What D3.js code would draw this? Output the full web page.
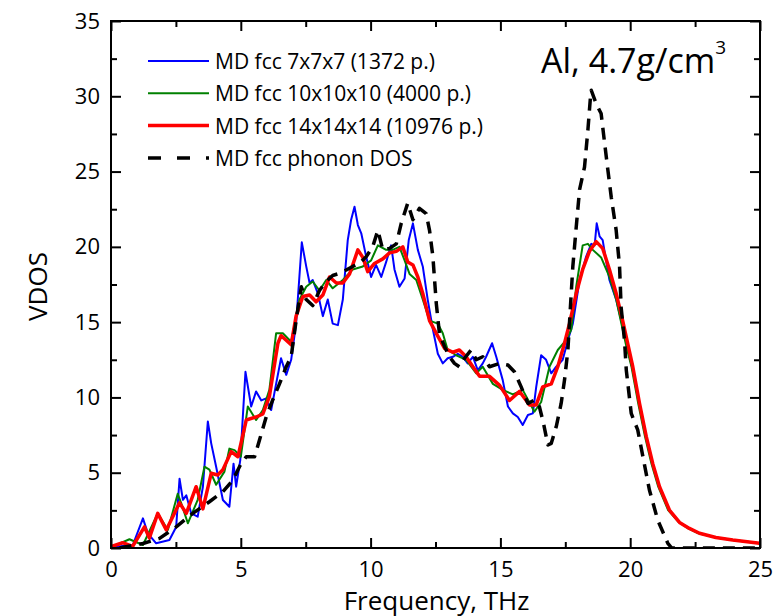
<!DOCTYPE html>
<html>
<head>
<meta charset="utf-8">
<script src="https://cdn.jsdelivr.net/npm/d3@7"></script>
<style>
  body { margin: 0; background: #fff; }
  svg { display: block; font-family: "Open Sans", sans-serif; }
</style>
</head>
<body>
<svg id="chart"></svg>
<script>
// Series: [frequency THz, VDOS]
const md7 = [
  [0, 0.05], [0.84, 0.2], [1.23, 1.97], [1.42, 0.97], [1.74, 0.31], [2.25, 0.53], [2.51, 1.4],
  [2.64, 4.6], [2.77, 3.2], [2.9, 3.5], [3.09, 2.3], [3.34, 2.08], [3.54, 4.07], [3.73, 8.4],
  [3.86, 6.95], [4.05, 5.4], [4.31, 3.19], [4.56, 2.74], [4.72, 5.6], [4.82, 4.07], [4.98, 5.84],
  [5.18, 11.7], [5.4, 9.4], [5.59, 10.4], [5.79, 9.8], [5.98, 9.94], [6.17, 9.16], [6.36, 10.9],
  [6.55, 12.6], [6.75, 11.5], [6.94, 12.5], [7.13, 14.9], [7.35, 20.3], [7.52, 18.7], [7.65, 17.6],
  [7.77, 17.8], [7.97, 16.9], [8.16, 15.4], [8.35, 16.5], [8.54, 14.9], [8.74, 14.8], [8.93, 16.5],
  [9.12, 20.45], [9.25, 21.8], [9.38, 22.66], [9.51, 21.45], [9.64, 20.9], [9.83, 19.34],
  [10.02, 18.0], [10.21, 18.8], [10.41, 18.0], [10.6, 19.0], [10.79, 20.1], [10.92, 18.5],
  [11.11, 17.35], [11.31, 17.9], [11.47, 20.45], [11.63, 21.56], [11.82, 19.8], [12.01, 18.7],
  [12.2, 16.5], [12.4, 14.5], [12.59, 12.9], [12.78, 12.26], [12.97, 12.6], [13.17, 12.7],
  [13.36, 12.9], [13.55, 12.7], [13.74, 12.26], [13.94, 12.7], [14.13, 11.8], [14.32, 12.26],
  [14.45, 12.7], [14.68, 13.6], [14.84, 12.7], [15.09, 11.15], [15.29, 9.4], [15.48, 8.94],
  [15.67, 8.7], [15.86, 8.17], [16.06, 8.83], [16.25, 8.94], [16.38, 10.7], [16.57, 12.8],
  [16.76, 12.5], [16.96, 11.6], [17.15, 12.04], [17.4, 12.5], [17.6, 13.8], [17.79, 14.9],
  [18.05, 17.8], [18.3, 19.34], [18.5, 20.2], [18.63, 20.1], [18.71, 21.56], [18.82, 20.7],
  [18.94, 20.45], [19.07, 19.1], [19.2, 17.8], [19.46, 16.5], [19.71, 14.7], [20.1, 11.8],
  [20.36, 9.6], [20.62, 7.4], [20.87, 5.6], [21.13, 4.07], [21.51, 2.52], [21.9, 1.7],
  [22.28, 1.3], [22.67, 0.98], [23.3, 0.7], [23.95, 0.53], [24.98, 0.31]
];

const md10 = [
  [0, 0.05], [0.71, 0.58], [1.23, 0.2], [1.8, 2.3], [2.19, 1.2], [2.57, 3.6], [2.7, 3.0],
  [2.96, 1.64], [3.34, 3.2], [3.6, 5.4], [3.79, 5.2], [4.05, 4.2], [4.37, 5.07], [4.56, 6.6],
  [4.76, 6.5], [5.0, 6.06], [5.27, 9.4], [5.59, 8.5], [5.85, 9.16], [6.1, 10.5], [6.36, 14.26],
  [6.62, 14.26], [6.94, 13.7], [7.26, 16.5], [7.52, 17.35], [7.77, 17.7], [8.03, 17.1],
  [8.29, 17.8], [8.54, 17.25], [8.93, 17.8], [9.31, 18.5], [9.7, 18.7], [10.02, 19.1],
  [10.28, 20.1], [10.6, 19.8], [10.85, 19.8], [11.11, 20.0], [11.31, 19.1], [11.5, 18.2],
  [11.76, 17.8], [12.01, 16.5], [12.27, 15.1], [12.59, 14.9], [12.78, 14.26], [12.97, 13.15],
  [13.3, 12.8], [13.68, 12.5], [14.07, 11.6], [14.32, 12.04], [14.71, 10.9], [15.09, 10.5],
  [15.48, 10.2], [15.86, 10.5], [16.31, 9.05], [16.57, 9.7], [16.89, 12.04], [17.21, 13.15],
  [17.53, 13.8], [17.73, 14.5], [17.92, 17.35], [18.17, 20.1], [18.37, 20.2], [18.56, 19.8],
  [18.88, 19.3], [19.2, 18.0], [19.46, 16.5], [19.85, 13.4], [20.05, 12.04], [20.31, 9.6],
  [20.57, 7.4], [20.82, 5.6], [21.08, 4.07], [21.46, 2.52], [21.85, 1.75], [22.23, 1.3],
  [22.62, 0.98], [23.3, 0.7], [23.95, 0.53], [24.98, 0.31]
];

const md14 = [
  [0, 0.1], [0.45, 0.35], [0.83, 0.1], [1.29, 1.4], [1.48, 0.66], [1.8, 2.3], [2.13, 1.2],
  [2.64, 3.0], [2.9, 2.3], [3.28, 4.07], [3.54, 2.6], [3.86, 4.96], [4.11, 4.85], [4.31, 5.2],
  [4.63, 6.4], [4.89, 6.06], [5.21, 8.5], [5.59, 8.7], [5.85, 8.9], [6.1, 10.05], [6.43, 13.6],
  [6.55, 14.1], [6.75, 13.8], [6.94, 13.5], [7.13, 15.4], [7.39, 16.7], [7.65, 16.8],
  [7.9, 16.35], [8.16, 16.8], [8.42, 18.0], [8.68, 17.6], [8.93, 17.6], [9.19, 18.2],
  [9.51, 19.8], [9.7, 19.3], [9.89, 18.35], [10.15, 18.9], [10.47, 19.2], [10.73, 19.6],
  [10.99, 19.7], [11.24, 20.0], [11.43, 19.0], [11.63, 18.8], [11.82, 18.0], [12.01, 16.9],
  [12.27, 15.1], [12.53, 14.25], [12.85, 13.26], [13.17, 13.0], [13.42, 13.15], [13.68, 12.7],
  [13.94, 12.04], [14.2, 11.4], [14.58, 11.4], [14.97, 10.8], [15.35, 9.8], [15.74, 10.4],
  [16.12, 9.5], [16.38, 9.5], [16.63, 10.7], [16.96, 10.9], [17.21, 12.04], [17.47, 13.6],
  [17.66, 14.9], [17.92, 16.9], [18.17, 18.5], [18.43, 19.7], [18.69, 20.35], [18.94, 19.9],
  [19.2, 18.5], [19.46, 16.9], [19.71, 15.1], [19.85, 14.0], [20.1, 12.04], [20.36, 9.6],
  [20.62, 7.4], [20.87, 5.6], [21.13, 4.07], [21.51, 2.52], [21.9, 1.7], [22.28, 1.3],
  [22.67, 0.98], [23.3, 0.7], [23.95, 0.53], [24.98, 0.31]
];

const phonon = [
  [0.33, 0], [1.23, 0.3], [1.87, 0.64], [2.51, 1.4], [3.15, 2.3], [3.79, 3.07], [4.31, 3.74],
  [4.69, 4.5], [5.01, 5.6], [5.21, 6.06], [5.53, 6.06], [5.72, 7.17], [5.98, 8.72], [6.23, 9.83],
  [6.49, 10.9], [6.75, 12.04], [6.94, 12.7], [7.13, 15.1], [7.33, 17.35], [7.52, 16.5],
  [7.77, 16.1], [8.03, 17.1], [8.29, 17.7], [8.54, 18.1], [8.8, 18.24], [9.06, 18.46],
  [9.31, 18.7], [9.57, 18.9], [9.83, 19.34], [10.08, 20.0], [10.28, 21.1], [10.47, 19.8],
  [10.73, 19.9], [10.99, 20.2], [11.18, 21.56], [11.43, 22.9], [11.63, 21.8], [11.88, 22.56],
  [12.14, 22.2], [12.27, 21.1], [12.4, 19.34], [12.53, 16.25], [12.65, 14.26], [12.85, 13.37],
  [13.04, 12.7], [13.23, 12.26], [13.42, 12.04], [13.62, 12.6], [13.87, 13.15], [14.07, 12.5],
  [14.32, 12.7], [14.58, 12.04], [14.97, 12.26], [15.29, 12.15], [15.54, 11.7], [15.8, 10.7],
  [16.06, 9.6], [16.31, 9.83], [16.5, 9.4], [16.66, 8.28], [16.83, 6.84], [16.96, 6.95],
  [17.15, 8.05], [17.34, 9.6], [17.47, 11.15], [17.6, 13.15], [17.79, 18.7], [17.92, 21.3],
  [18.05, 23.8], [18.24, 25.3], [18.37, 27.75], [18.46, 29.75], [18.5, 30.4], [18.69, 29.5],
  [18.88, 28.86], [19.0, 27.1], [19.14, 25.1], [19.27, 23.3], [19.46, 21.1], [19.59, 18.7],
  [19.65, 16.0], [19.78, 13.8], [19.85, 11.8], [20.04, 8.94], [20.29, 7.84], [20.49, 6.06],
  [20.74, 3.85], [21.06, 1.86], [21.45, 0.31], [21.6, 0], [25, 0]
];

const seriesNames = [
  "MD fcc 7x7x7 (1372 p.)",
  "MD fcc 10x10x10 (4000 p.)",
  "MD fcc 14x14x14 (10976 p.)",
  "MD fcc phonon DOS"
];
const seriesData = [md7, md10, md14, phonon];
const seriesColors = ["#0000ff", "#008000", "#ff0000", "#000000"];
const seriesWidths = [2, 2, 3.5, 3.5];
const seriesDash = [null, null, null, "12,8"];

const xTicks = [0, 5, 10, 15, 20, 25];
const yTicks = [0, 5, 10, 15, 20, 25, 30, 35];

const width = 775, height = 616;
const margin = { top: 21, right: 15, bottom: 68, left: 111 };
const innerWidth = width - margin.left - margin.right;
const innerHeight = height - margin.top - margin.bottom;

const svg = d3.select("#chart").attr("width", width).attr("height", height);
const g = svg.append("g").attr("transform", `translate(${margin.left},${margin.top})`);

const x = d3.scaleLinear().domain([0, 25]).range([0, innerWidth]);
const y = d3.scaleLinear().domain([0, 35]).range([innerHeight, 0]);

svg.append("defs").append("clipPath").attr("id", "plotclip")
  .append("rect").attr("width", innerWidth).attr("height", innerHeight + 2).attr("y", -1);

// curves
const line = d3.line().x(d => x(d[0])).y(d => y(d[1]));
const plot = g.append("g").attr("clip-path", "url(#plotclip)");
seriesData.forEach((s, i) => {
  plot.append("path")
    .datum(s)
    .attr("fill", "none")
    .attr("stroke", seriesColors[i])
    .attr("stroke-width", seriesWidths[i])
    .attr("stroke-linejoin", "round")
    .attr("stroke-dasharray", seriesDash[i])
    .attr("d", line);
});

// axes, ticks pointing inward on all four sides
const minorX = d3.range(2.5, 25, 5);
const minorY = d3.range(2.5, 35, 5);

function styleAxis(sel) {
  sel.select(".domain").remove();
  sel.selectAll("line").attr("stroke", "#000").attr("stroke-width", 2);
  sel.selectAll("text").attr("font-size", 22).attr("fill", "#000")
    .attr("font-family", "'Open Sans', sans-serif");
}
// tick-only axes: drop the empty labels
function ticksOnly(sel) {
  styleAxis(sel);
  sel.selectAll("text").remove();
}

g.append("g").attr("transform", `translate(0,${innerHeight})`)
  .call(d3.axisBottom(x).tickValues(xTicks).tickSize(-10).tickPadding(13).tickFormat(d3.format("d")))
  .call(styleAxis);
g.append("g").attr("transform", `translate(0,${innerHeight})`)
  .call(d3.axisBottom(x).tickValues(minorX).tickSize(-6))
  .call(ticksOnly);
g.append("g")
  .call(d3.axisTop(x).tickValues(xTicks).tickSize(-10))
  .call(ticksOnly);
g.append("g")
  .call(d3.axisTop(x).tickValues(minorX).tickSize(-6))
  .call(ticksOnly);

g.append("g")
  .call(d3.axisLeft(y).tickValues(yTicks).tickSize(-10).tickPadding(11).tickFormat(d3.format("d")))
  .call(styleAxis);
g.append("g")
  .call(d3.axisLeft(y).tickValues(minorY).tickSize(-6))
  .call(ticksOnly);
g.append("g").attr("transform", `translate(${innerWidth},0)`)
  .call(d3.axisRight(y).tickValues(yTicks).tickSize(-10))
  .call(ticksOnly);
g.append("g").attr("transform", `translate(${innerWidth},0)`)
  .call(d3.axisRight(y).tickValues(minorY).tickSize(-6))
  .call(ticksOnly);

// frame
g.append("rect")
  .attr("width", innerWidth).attr("height", innerHeight)
  .attr("fill", "none").attr("stroke", "#000").attr("stroke-width", 2);

// axis titles
svg.append("text")
  .attr("x", margin.left + innerWidth / 2 + 1)
  .attr("y", 610)
  .attr("text-anchor", "middle")
  .attr("font-size", 26)
  .text("Frequency, THz");

svg.append("text")
  .attr("transform", `translate(47,${margin.top + innerHeight / 2 + 2}) rotate(-90)`)
  .attr("text-anchor", "middle")
  .attr("font-size", 26)
  .text("VDOS");

// label in the corner
const lab = svg.append("text")
  .attr("x", 541)
  .attr("y", 73)
  .attr("font-size", 34)
  .text("Al, 4.7g/cm");
lab.append("tspan")
  .attr("font-size", 19)
  .attr("dy", -19)
  .text("3");

// legend
const legend = svg.append("g").attr("transform", "translate(148,61)");
seriesNames.forEach((name, i) => {
  const row = legend.append("g").attr("transform", `translate(0,${i * 32.3})`);
  row.append("line")
    .attr("x1", 0).attr("x2", 61)
    .attr("stroke", seriesColors[i])
    .attr("stroke-width", seriesWidths[i])
    .attr("stroke-dasharray", seriesDash[i] ? "13,16" : null);
  row.append("text")
    .attr("x", 67)
    .attr("y", 8)
    .attr("font-size", 21)
    .text(name);
});
</script>
</body>
</html>
